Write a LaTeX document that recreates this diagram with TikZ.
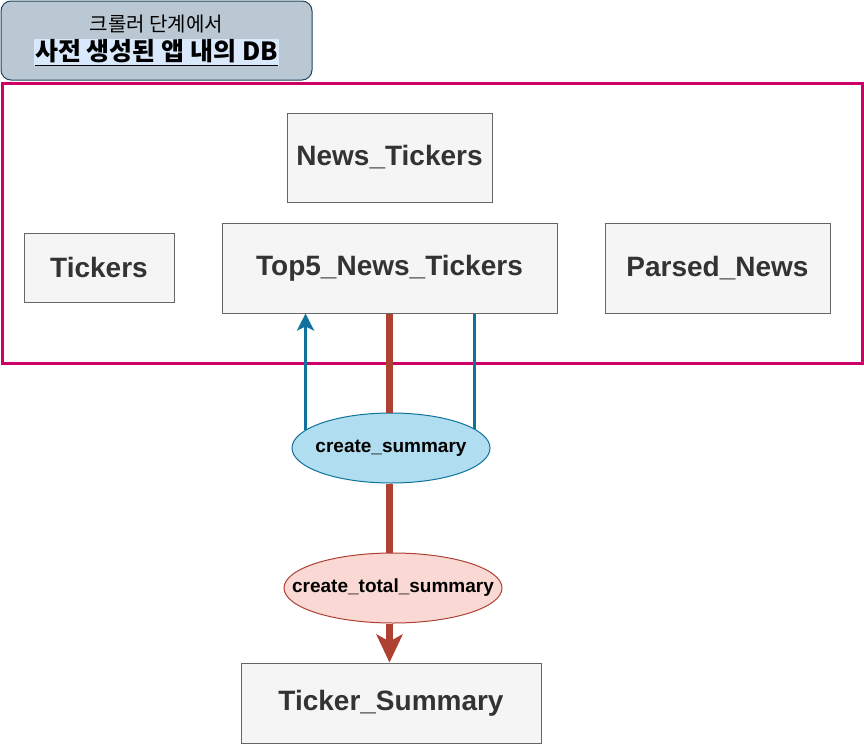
\documentclass[tikz,border=0pt]{standalone}
\usepackage{fontspec}
\setmainfont{Liberation Sans}
\newfontfamily\kr{Noto Sans CJK KR}
\usetikzlibrary{shapes.geometric,arrows.meta,calc}
\definecolor{hdrfill}{HTML}{BAC8D3}
\definecolor{hdrline}{HTML}{23445D}
\definecolor{hl}{HTML}{DAE8FC}
\definecolor{mag}{HTML}{CC0066}
\definecolor{boxfill}{HTML}{F5F5F5}
\definecolor{boxline}{HTML}{666666}
\definecolor{boxtext}{HTML}{333333}
\definecolor{bluefill}{HTML}{B1DDF0}
\definecolor{blueline}{HTML}{10739E}
\definecolor{redfill}{HTML}{FAD9D5}
\definecolor{redline}{HTML}{AE4132}
\tikzset{
  tbl/.style={draw=boxline, fill=boxfill, line width=1pt, inner sep=0pt,
    text=boxtext, font=\fontsize{28}{32}\selectfont\bfseries},
  fnlabel/.style={font=\fontsize{19}{22}\selectfont\bfseries},
  fnblue/.style={ellipse, draw=blueline, fill=bluefill, line width=1pt, inner sep=0pt,
    minimum width=198pt, minimum height=70pt},
  fnred/.style={ellipse, draw=redline, fill=redfill, line width=1pt, inner sep=0pt,
    minimum width=218pt, minimum height=70pt},
  bluearr/.style={draw=blueline, line width=3pt},
  redarr/.style={draw=redline, line width=7pt}
}
\begin{document}
\begin{tikzpicture}[x=1pt,y=-1pt]
\useasboundingbox[fill=white] (0,0) rectangle (864,744);
% header
\node[draw=hdrline, fill=hdrfill, line width=1pt, rounded corners=10pt,
  minimum width=311pt, minimum height=79pt, inner sep=0pt, align=center] (hdr) at (156.5,40.5)
  {{\kr\fontsize{20}{24}\selectfont 크롤러 단계에서}\\[5pt]
   {\setlength{\fboxsep}{1pt}\colorbox{hl}{\kr\bfseries\fontsize{25}{28}\selectfont\underline{사전 생성된 앱 내의 \textbf{DB}}}}};
% DB frame
\node[draw=mag, line width=3pt, minimum width=860pt, minimum height=280pt, inner sep=0pt] (frame) at (432,223) {};
% tables
\node[tbl, minimum width=205pt, minimum height=89pt] (news) at (389.5,157.5) {News\_Tickers};
\node[tbl, minimum width=150pt, minimum height=69pt] (tick) at (99,267.5) {Tickers};
\node[tbl, minimum width=335pt, minimum height=90pt] (top5) at (389.5,268) {Top5\_News\_Tickers};
\node[tbl, minimum width=225pt, minimum height=90pt] (parsed) at (717.5,268) {Parsed\_News};
% functions
\node[fnblue, label={[fnlabel]center:create\_summary}] (cs) at (391,448) {};
\node[fnred, label={[fnlabel]center:create\_total\_summary}] (cts) at (393,588) {};
\node[tbl, minimum width=300pt, minimum height=80pt] (ts) at (391,703) {Ticker\_Summary};
% connectors
\draw[redarr] (top5.south) -- (top5.south |- cs.north);
\draw[redarr] (top5.south |- cs.south) -- (top5.south |- cts.north);
\draw[redarr, -{Stealth[length=28pt,width=26pt,inset=7pt]}] (top5.south |- cts.south) -- (top5.south |- ts.north);
\draw[bluearr, -{Stealth[length=17pt,width=17pt,inset=4pt]}] (cs.168) -- (cs.168 |- top5.south);
\draw[bluearr] (cs.13) -- (cs.13 |- top5.south);
\end{tikzpicture}
\end{document}
